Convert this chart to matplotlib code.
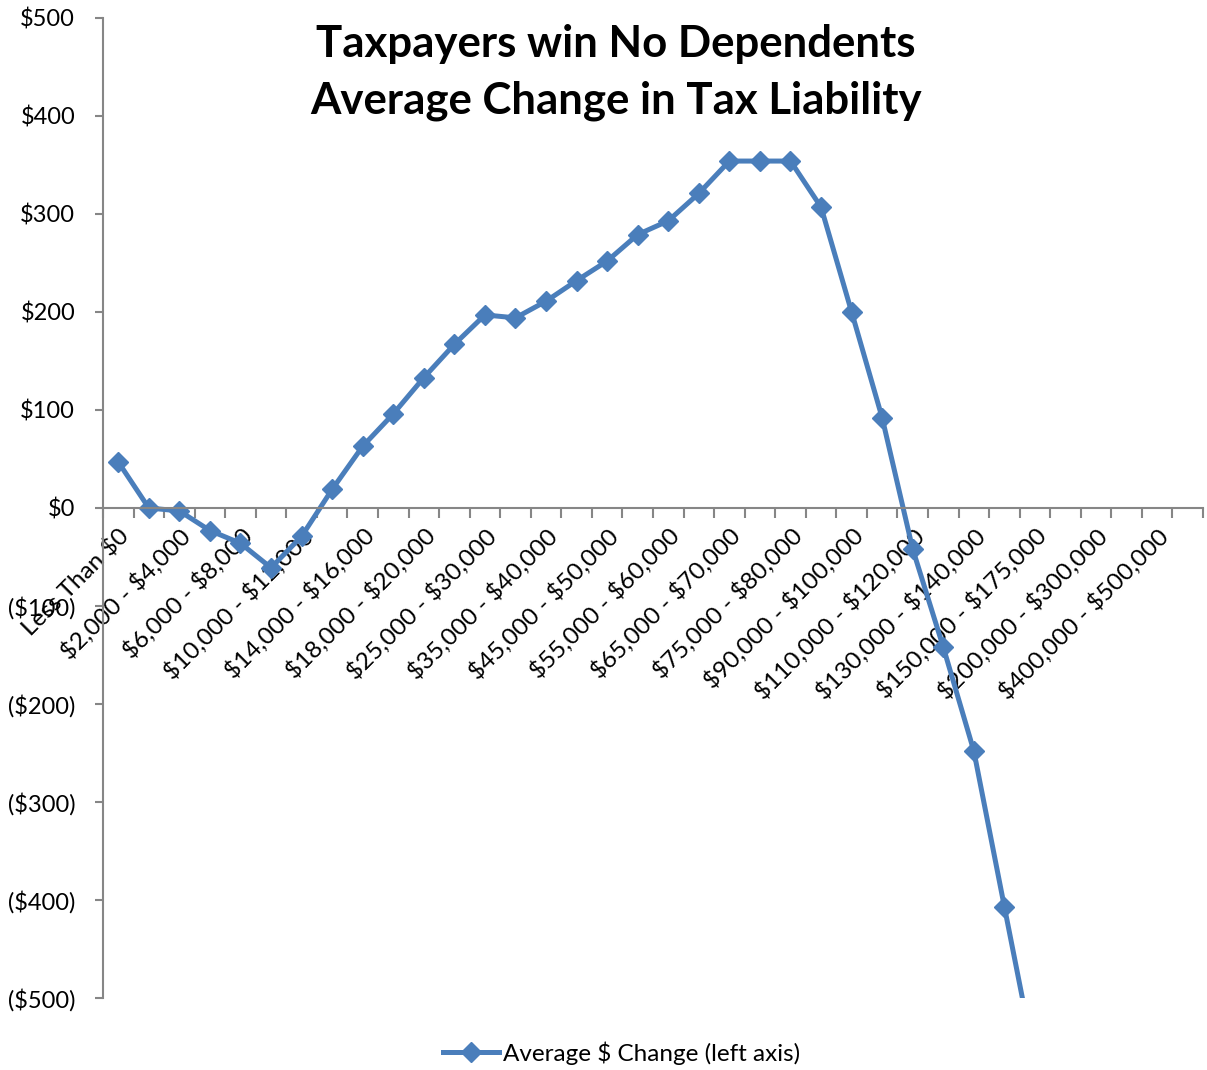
import numpy as np
import matplotlib.pyplot as plt

plt.rcParams['font.family'] = ['Lato', 'DejaVu Sans']

# 收入区间（36类）
categories = ['Less Than $0', '$0 - $2,000', '$2,000 - $4,000', '$4,000 - $6,000',
              '$6,000 - $8,000', '$8,000 - $10,000', '$10,000 - $12,000',
              '$12,000 - $14,000', '$14,000 - $16,000', '$16,000 - $18,000',
              '$18,000 - $20,000', '$20,000 - $25,000', '$25,000 - $30,000',
              '$30,000 - $35,000', '$35,000 - $40,000', '$40,000 - $45,000',
              '$45,000 - $50,000', '$50,000 - $55,000', '$55,000 - $60,000',
              '$60,000 - $65,000', '$65,000 - $70,000', '$70,000 - $75,000',
              '$75,000 - $80,000', '$80,000 - $90,000', '$90,000 - $100,000',
              '$100,000 - $110,000', '$110,000 - $120,000', '$120,000 - $130,000',
              '$130,000 - $140,000', '$140,000 - $150,000', '$150,000 - $175,000',
              '$175,000 - $200,000', '$200,000 - $300,000', '$300,000 - $400,000',
              '$400,000 - $500,000', '$500,000 +']

# 平均税负变化（读图估计，超出范围的未知）
avg_change = [47, 0, -3, -23, -36, -61, -29, 19, 63, 96, 133, 167, 197, 194,
              211, 232, 252, 279, 293, 321, 354, 354, 354, 307, 200, 92, -42,
              -142, -248, -407, -565]

y_ticks = [500, 400, 300, 200, 100, 0, -100, -200, -300, -400, -500]
y_labels = ['$500', '$400', '$300', '$200', '$100', '$0',
            '($100)', '($200)', '($300)', '($400)', '($500)']

blue = '#4A7EBB'
grey = '#868686'

def esc(s):  # 避免 $ 被当成数学公式
    return s.replace('$', r'\$')

fig = plt.figure(figsize=(12.07, 10.70), dpi=100)
ax = fig.add_axes([0.0853, 0.0673, 0.9114, 0.9159])

x = np.arange(len(avg_change))
ax.plot(x, avg_change, color=blue, lw=3.6, marker='D', markersize=10.5,
        label=esc('Average $ Change (left axis)'))

ax.set_xlim(-0.5, len(categories) - 0.5)
ax.set_ylim(-500, 500)

# 坐标轴样式
for s in ['top', 'right']:
    ax.spines[s].set_visible(False)
ax.spines['bottom'].set_position(('data', 0))
ax.spines['left'].set_color(grey)
ax.spines['bottom'].set_color(grey)
ax.spines['left'].set_linewidth(1.5)
ax.spines['bottom'].set_linewidth(1.5)

ax.set_yticks(y_ticks)
ax.set_yticklabels([esc(s) for s in y_labels], fontsize=17)
ax.tick_params(axis='y', direction='out', length=6, width=1.5, color=grey, pad=14)

# x刻度：边界处短线，标签隔一个显示
ax.set_xticks(np.arange(len(categories) + 1) - 0.5, minor=True)
ax.set_xticks(np.arange(0, len(categories), 2))
ax.set_xticklabels([esc(c) for c in categories[::2]], fontsize=17.5, rotation=45,
                   ha='right', va='top', rotation_mode='anchor')
ax.tick_params(axis='x', which='minor', direction='out', length=7, width=1.5, color=grey)
ax.tick_params(axis='x', which='major', length=0, pad=12)

fig.text(0.51, 0.978, 'Taxpayers win No Dependents\nAverage Change in Tax Liability',
         ha='center', va='top', fontsize=31.5, fontweight='bold', linespacing=1.5)

fig.legend(loc='center', bbox_to_anchor=(0.515, 0.016), frameon=False, fontsize=17.5,
           handlelength=2.3, handletextpad=0.2)

plt.savefig('out.png')
